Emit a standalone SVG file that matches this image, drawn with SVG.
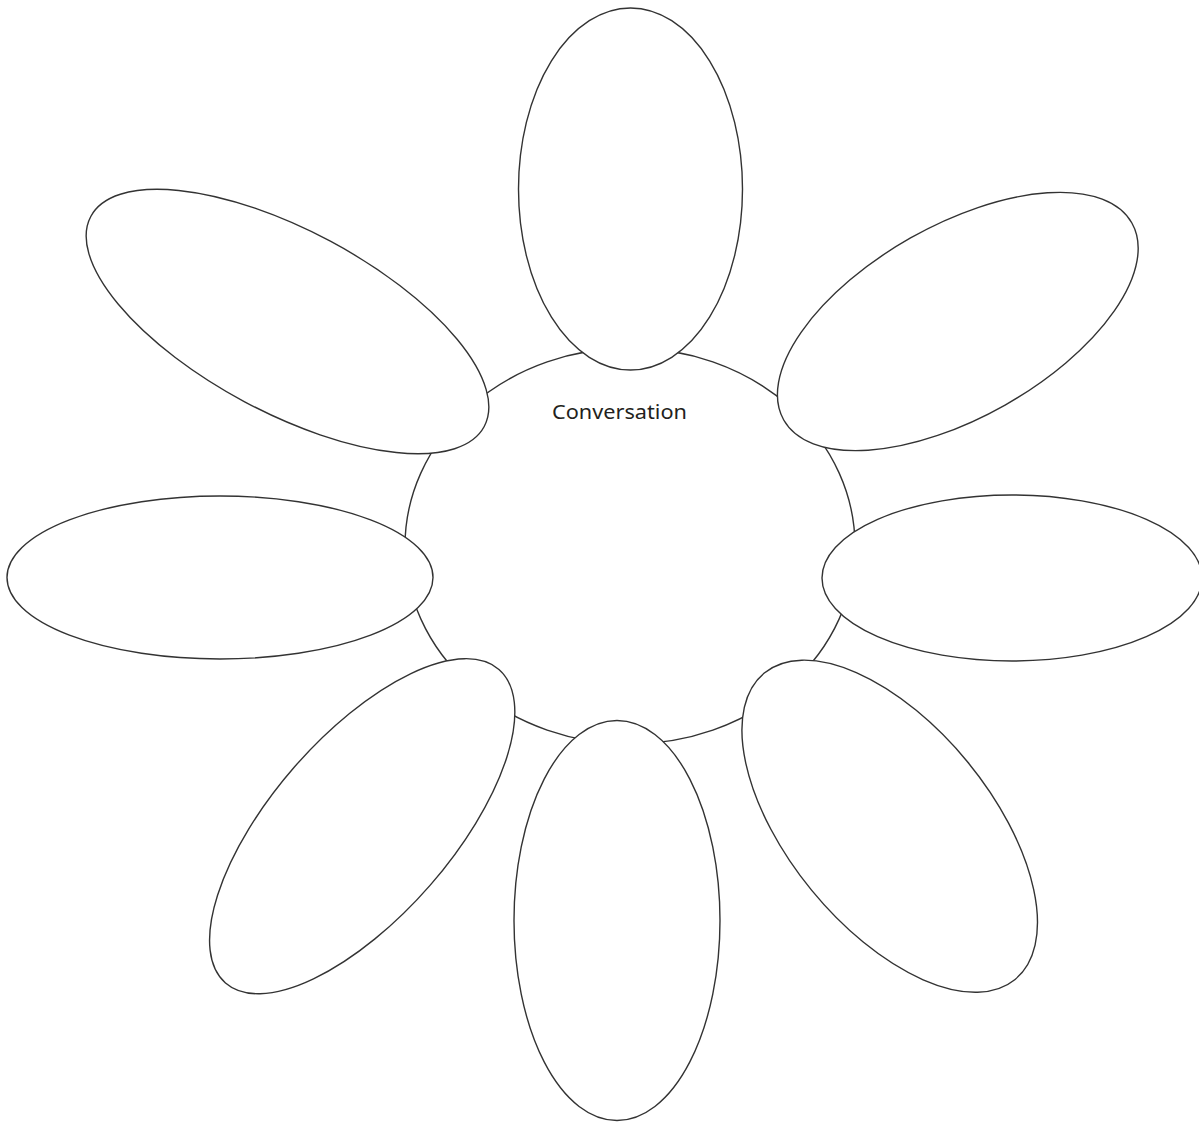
<svg xmlns="http://www.w3.org/2000/svg" width="1199" height="1123" viewBox="0 0 1199 1123">
<style>
.shape{fill:#ffffff;stroke:#333333;stroke-width:1.4}
.label{font-family:"Noto Sans","Open Sans","Liberation Sans",sans-serif;font-size:20px;fill:#231f20}
</style>
<rect width="1199" height="1123" fill="#ffffff"/>
<g id="center">
<ellipse class="shape" cx="630" cy="546" rx="225" ry="198"/>
<text class="label" x="552" y="419" textLength="135" lengthAdjust="spacingAndGlyphs">Conversation</text>
</g>
<g id="petal-top"><ellipse class="shape" cx="630.5" cy="189" rx="112" ry="181"/></g>
<g id="petal-upper-right"><ellipse class="shape" cx="957.8" cy="321.5" rx="200" ry="96" transform="rotate(-29.5 957.8 321.5)"/></g>
<g id="petal-right"><ellipse class="shape" cx="1012" cy="578" rx="190" ry="83"/></g>
<g id="petal-lower-right"><ellipse class="shape" cx="889.7" cy="826.2" rx="198" ry="101" transform="rotate(50.7 889.7 826.2)"/></g>
<g id="petal-bottom"><ellipse class="shape" cx="617" cy="920.5" rx="103" ry="200"/></g>
<g id="petal-lower-left"><ellipse class="shape" cx="362.2" cy="826.2" rx="208" ry="90" transform="rotate(-48.9 362.2 826.2)"/></g>
<g id="petal-left"><ellipse class="shape" cx="220" cy="577.5" rx="213" ry="81.5"/></g>
<g id="petal-upper-left"><ellipse class="shape" cx="287.5" cy="321.5" rx="223" ry="91" transform="rotate(28.1 287.5 321.5)"/></g>
</svg>
